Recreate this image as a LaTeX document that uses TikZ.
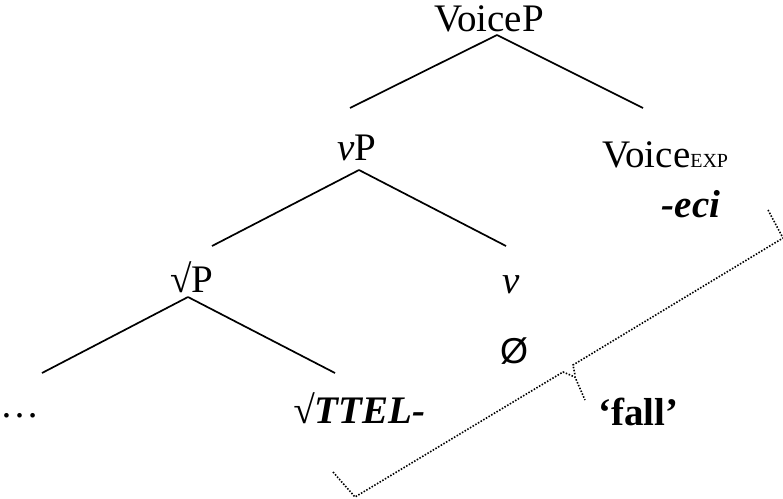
\documentclass[tikz,border=0pt]{standalone}
\usepackage{fontspec}
\setmainfont{Liberation Serif}
\newfontfamily\zerofont{Liberation Sans}
\usepackage{tikz}

\begin{document}
\begin{tikzpicture}
  [x=1pt,y=-1pt,every node/.style={inner sep=0,anchor=base,font=\fontsize{39}{41}\selectfont},
   branch/.style={line width=1.7pt},
   brack/.style={line width=1.6pt,dash pattern=on 1.5pt off 1.6pt}]
  \useasboundingbox (0,0) rectangle (783,498);
  \node (voicep) at (489,31)   {VoiceP};
  \node (vp) at (357,160)      {\textit{v}P};
  \node (rootp) at (192,292)   {√P};
  \node[anchor=base west] (voiceexp) at (602,167) {Voice{\fontsize{20}{20}\selectfont EXP}};
  \node (eci) at (691,217)     {\textbf{\textit{-eci}}};
  \node (v) at (511,293)       {\textit{v}};
  \node (zero) at (514,363)    {\zerofont\fontsize{36}{38}\selectfont Ø};
  \node[anchor=base west] (dots) at (0,417) {…};
  \node[anchor=base west] (ttel) at (293,423) {\textbf{\textit{√TTEL-}}};
  \node[anchor=base west] (fall) at (598,425) {\textbf{‘fall’}};

  \coordinate (t0) at (497,35);
  \coordinate (l1) at (350,108);
  \coordinate (r1) at (643,108);
  \coordinate (t1) at (359,170);
  \coordinate (l2) at (212,246);
  \coordinate (r2) at (506,246);
  \coordinate (t2) at (188,297);
  \coordinate (l3) at (42,373);
  \coordinate (r3) at (335,373);

  \foreach \from/\to in {t0/l1,t0/r1,t1/l2,t1/r2,t2/l3,t2/r3}
    \draw[branch] (\from) -- (\to);

  \draw[brack] (768,210) -- (783,238) -- (573,365) -- (575,375);
  \draw[brack] (333,472) -- (355,497) -- (563,372) -- (575,377) -- (585,400);
\end{tikzpicture}
\end{document}
